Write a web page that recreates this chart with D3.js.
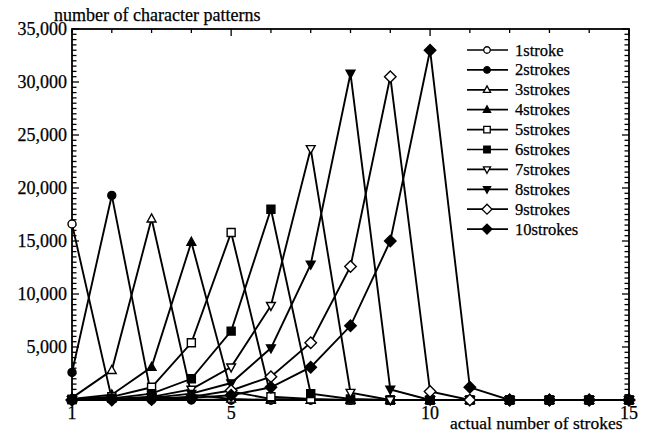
<!DOCTYPE html>
<html>
<head>
<meta charset="utf-8">
<script src="https://cdn.jsdelivr.net/npm/d3@7"></script>
<style>
  body { margin: 0; background: #fff; }
  text { font-family: "Liberation Serif", "Times New Roman", serif; fill: #000; stroke: #000; stroke-width: 0.25; }
</style>
</head>
<body>
<svg id="chart" width="652" height="434"></svg>
<script>
// actual number of strokes on the x axis
const strokes = [1, 2, 3, 4, 5, 6, 7, 8, 9, 10, 11, 12, 13, 14, 15];

// one array per input-stroke series
const s1  = [16600, 100, 0, 0, 0, 0, 0, 0, 0, 0, 0, 0, 0, 0, 0];
const s2  = [2600, 19300, 300, 50, 0, 0, 0, 0, 0, 0, 0, 0, 0, 0, 0];
const s3  = [200, 2800, 17100, 500, 100, 0, 0, 0, 0, 0, 0, 0, 0, 0, 0];
const s4  = [100, 500, 3100, 14900, 800, 100, 0, 0, 0, 0, 0, 0, 0, 0, 0];
const s5  = [50, 300, 1200, 5400, 15800, 300, 100, 0, 0, 0, 0, 0, 0, 0, 0];
const s6  = [50, 150, 600, 2000, 6500, 18000, 600, 100, 0, 0, 0, 0, 0, 0, 0];
const s7  = [0, 100, 300, 1000, 3100, 8900, 23700, 700, 0, 0, 0, 0, 0, 0, 0];
const s8  = [0, 50, 200, 600, 1600, 4900, 12800, 30800, 1000, 0, 0, 0, 0, 0, 0];
const s9  = [0, 50, 100, 300, 900, 2200, 5400, 12600, 30500, 800, 0, 0, 0, 0, 0];
const s10 = [0, 0, 50, 200, 450, 1200, 3100, 7000, 15000, 33000, 1200, 0, 0, 0, 0];

const seriesNames = ['1stroke', '2strokes', '3strokes', '4strokes', '5strokes',
                     '6strokes', '7strokes', '8strokes', '9strokes', '10strokes'];
const seriesValues = [s1, s2, s3, s4, s5, s6, s7, s8, s9, s10];
// marker shape and fill for each series
const shapes = ['circle', 'circle', 'tri', 'tri', 'square', 'square', 'down', 'down', 'diamond', 'diamond'];
const filled = [false, true, false, true, false, true, false, true, false, true];

const yTicks = [5000, 10000, 15000, 20000, 25000, 30000, 35000];
const xTickLabels = [1, 5, 10, 15];

const svg = d3.select('#chart');

const x = d3.scaleLinear().domain([1, 15]).range([72, 629]);
const y = d3.scaleLinear().domain([0, 35000]).range([400, 29]);

// marker path generator
function markerPath(shape, s) {
    if (shape === 'circle') return d3.symbol(d3.symbolCircle, Math.PI * s * s / 4)();
    if (shape === 'square') return `M${-s/2},${-s/2}H${s/2}V${s/2}H${-s/2}Z`;
    if (shape === 'tri') return `M0,${-s*0.6}L${s*0.55},${s*0.4}L${-s*0.55},${s*0.4}Z`;
    if (shape === 'down') return `M0,${s*0.6}L${s*0.55},${-s*0.4}L${-s*0.55},${-s*0.4}Z`;
    return `M0,${-s*0.5}L${s*0.5},0L0,${s*0.5}L${-s*0.5},0Z`;
}

// frame
svg.append('rect')
    .attr('x', x(1)).attr('y', y(35000))
    .attr('width', x(15) - x(1)).attr('height', y(0) - y(35000))
    .attr('fill', 'none').attr('stroke', '#000').attr('stroke-width', 1.8);

// y ticks on left and right, minor every 500
const yMinor = d3.range(0, 35001, 500);
svg.append('g').selectAll('line')
    .data(yMinor)
    .join('line')
    .attr('x1', x(1)).attr('x2', d => x(1) + (d % 5000 === 0 ? 7 : 4.5))
    .attr('y1', d => y(d)).attr('y2', d => y(d))
    .attr('stroke', '#000').attr('stroke-width', 1.3);
svg.append('g').selectAll('line')
    .data(yMinor)
    .join('line')
    .attr('x1', x(15)).attr('x2', d => x(15) - (d % 5000 === 0 ? 7 : 4.5))
    .attr('y1', d => y(d)).attr('y2', d => y(d))
    .attr('stroke', '#000').attr('stroke-width', 1.3);

svg.append('g').selectAll('text')
    .data(yTicks)
    .join('text')
    .attr('x', x(1) - 5)
    .attr('y', d => y(d) + 6)
    .attr('text-anchor', 'end')
    .attr('font-size', 18)
    .text(d => d3.format(',')(d));

// x ticks top and bottom
const xAll = d3.range(1, 16);
svg.append('g').selectAll('line')
    .data(xAll)
    .join('line')
    .attr('x1', d => x(d)).attr('x2', d => x(d))
    .attr('y1', y(35000)).attr('y2', d => y(35000) + (d % 5 === 0 ? 7 : 4))
    .attr('stroke', '#000').attr('stroke-width', 1.3);
svg.append('g').selectAll('line')
    .data(xAll)
    .join('line')
    .attr('x1', d => x(d)).attr('x2', d => x(d))
    .attr('y1', y(0)).attr('y2', d => y(0) - (d % 5 === 0 ? 7 : 4))
    .attr('stroke', '#000').attr('stroke-width', 1.3);

svg.append('g').selectAll('text')
    .data(xTickLabels)
    .join('text')
    .attr('x', d => x(d))
    .attr('y', 419)
    .attr('text-anchor', 'middle')
    .attr('font-size', 18)
    .text(d => d);

// axis titles
svg.append('text')
    .attr('x', 54).attr('y', 21)
    .attr('font-size', 18)
    .text('number of character patterns');
svg.append('text')
    .attr('x', 450).attr('y', 429)
    .attr('font-size', 17.5)
    .text('actual number of strokes');

// lines and markers
const line = d3.line()
    .x((d, i) => x(strokes[i]))
    .y(d => y(d));

for (let k = 0; k < seriesValues.length; k++) {
    const g = svg.append('g');
    g.append('path')
        .datum(seriesValues[k])
        .attr('d', line)
        .attr('fill', 'none')
        .attr('stroke', '#000')
        .attr('stroke-width', 1.9);
    g.selectAll('path.m')
        .data(seriesValues[k])
        .join('path')
        .attr('class', 'm')
        .attr('transform', (d, i) => `translate(${x(strokes[i])},${y(d)})`)
        .attr('d', markerPath(shapes[k], shapes[k] === 'diamond' ? 11.5 : 8))
        .attr('fill', filled[k] ? '#000' : '#fff')
        .attr('stroke', '#000')
        .attr('stroke-width', 1.4);
}

// legend
const legend = svg.append('g');
seriesNames.forEach(function(name, k) {
    const ly = 50 + k * 19.9;
    legend.append('line')
        .attr('x1', 467).attr('x2', 508)
        .attr('y1', ly).attr('y2', ly)
        .attr('stroke', '#000').attr('stroke-width', 1.7);
    legend.append('path')
        .attr('transform', `translate(487,${ly})`)
        .attr('d', markerPath(shapes[k], shapes[k] === 'diamond' ? 10 : 6.5))
        .attr('fill', filled[k] ? '#000' : '#fff')
        .attr('stroke', '#000')
        .attr('stroke-width', 1.3);
    legend.append('text')
        .attr('x', 515).attr('y', ly + 5.5)
        .attr('font-size', 16.5)
        .text(name);
});
</script>
</body>
</html>
